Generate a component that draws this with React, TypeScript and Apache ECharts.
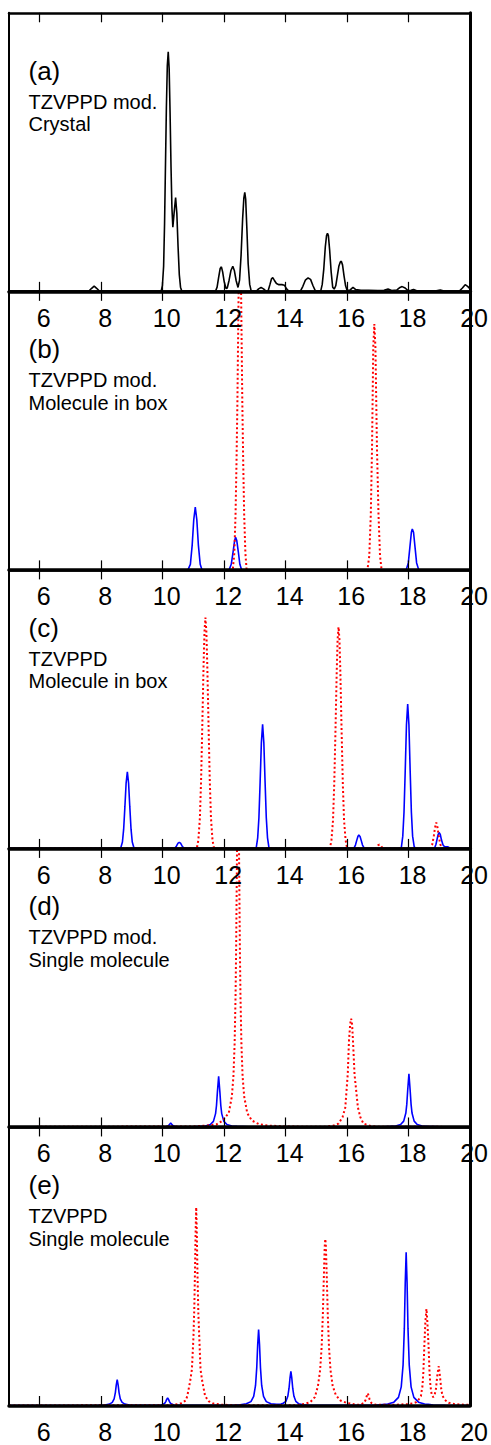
import React, { useEffect, useRef } from "react";
import * as echarts from "echarts";

type P = [number, number][];

const xTicks = [6, 8, 10, 12, 14, 16, 18, 20];
const panelLetters = ["(a)", "(b)", "(c)", "(d)", "(e)"];
const panelLine1 = ["TZVPPD mod.", "TZVPPD mod.", "TZVPPD", "TZVPPD mod.", "TZVPPD"];
const panelLine2 = ["Crystal", "Molecule in box", "Molecule in box", "Single molecule", "Single molecule"];

const crystalA: P = [
  [5, 0.1], [7.6, 0.1], [7.68, 1.0], [7.77, 1.9], [7.86, 1.0], [7.94, 0.1],
  [9.95, 0.1], [9.99, 2], [10.03, 9], [10.06, 24], [10.09, 45], [10.12, 66], [10.15, 81], [10.18, 86], [10.21, 80], [10.24, 64], [10.27, 45], [10.3, 30], [10.33, 23], [10.37, 28], [10.42, 33.7], [10.46, 28], [10.5, 16], [10.54, 6], [10.58, 1.5], [10.62, 0.1],
  [11.72, 0.1], [11.77, 1.5], [11.82, 5], [11.87, 8.2], [11.91, 8.8], [11.95, 7], [12.0, 3.5], [12.06, 1], [12.1, 1.2], [12.16, 4], [12.22, 7.5], [12.28, 9], [12.33, 7.5], [12.39, 3.8], [12.45, 1.4], [12.5, 4], [12.55, 13], [12.6, 26], [12.64, 33.5], [12.67, 35.5], [12.7, 33], [12.74, 22], [12.78, 10], [12.83, 2.5], [12.88, 0.1],
  [13.05, 0.1], [13.12, 0.9], [13.2, 1.4], [13.28, 0.9], [13.36, 0.1],
  [13.43, 0.2], [13.49, 2.5], [13.54, 4.5], [13.58, 4.9], [13.63, 4], [13.7, 2.8], [13.78, 2.4], [13.88, 2.4], [13.96, 2.2], [14.03, 0.9], [14.1, 0.1],
  [14.48, 0.1], [14.56, 1.8], [14.64, 4], [14.73, 4.8], [14.81, 4.3], [14.89, 2], [14.97, 0.1],
  [15.14, 0.1], [15.19, 2.5], [15.24, 8], [15.29, 16], [15.33, 20], [15.36, 20.8], [15.39, 20], [15.43, 15], [15.48, 7], [15.53, 1.5], [15.58, 0.8], [15.63, 2], [15.68, 5.5], [15.73, 9], [15.78, 10.6], [15.81, 10.8], [15.85, 9.5], [15.9, 5.5], [15.95, 2], [16.0, 0.3],
  [16.1, 0.5], [16.19, 1.4], [16.28, 0.6], [16.45, 0.4], [16.7, 0.4], [17.0, 0.3], [17.2, 0.4], [17.33, 0.8], [17.45, 0.3], [17.62, 0.5], [17.72, 1.4], [17.79, 1.7], [17.87, 1.3], [17.98, 0.3], [18.08, 0.4], [18.16, 0.7], [18.26, 0.2], [18.9, 0.2], [19.03, 0.5], [19.15, 0.1], [19.65, 0.1], [19.75, 1.2], [19.84, 2.4], [19.92, 1.8], [20, 0.9],
];

const blueB: P = [
  [5, 0], [10.82, 0], [10.9, 2], [10.96, 9], [11.01, 18], [11.06, 22.5], [11.11, 18], [11.16, 9], [11.22, 2], [11.28, 0],
  [12.16, 0], [12.23, 2], [12.29, 6.5], [12.34, 10.5], [12.37, 11.7], [12.41, 10.5], [12.46, 6.5], [12.51, 2], [12.57, 0],
  [17.92, 0], [17.99, 2.5], [18.04, 8], [18.09, 13.5], [18.12, 14.7], [18.16, 13.5], [18.21, 8], [18.26, 2.5], [18.33, 0], [20, 0],
];
const redB: P = [
  [5, 0], [12.28, 0], [12.33, 6], [12.37, 20], [12.4, 38], [12.43, 60], [12.455, 85], [12.48, 110], [12.51, 125], [12.54, 110], [12.565, 85], [12.59, 60], [12.62, 38], [12.65, 20], [12.69, 6], [12.73, 0],
  [16.66, 0], [16.72, 5], [16.77, 20], [16.81, 44], [16.85, 80], [16.885, 88.3], [16.92, 80], [16.97, 44], [17.02, 20], [17.07, 5], [17.12, 0], [20, 0],
];

const blueC: P = [
  [5, 0], [8.63, 0], [8.69, 2.3], [8.73, 6.9], [8.77, 14.9], [8.81, 23.5], [8.85, 27.5], [8.89, 23.5], [8.93, 14.9], [8.97, 6.9], [9.01, 2.3], [9.07, 0],
  [10.39, 0], [10.45, 0.9], [10.5, 1.9], [10.54, 2.2], [10.58, 1.9], [10.63, 0.9], [10.7, 0],
  [13.04, 0], [13.09, 3.8], [13.13, 11], [13.17, 24], [13.21, 38], [13.25, 44.6], [13.29, 38], [13.33, 24], [13.37, 11], [13.41, 3.8], [13.46, 0],
  [16.22, 0], [16.27, 1.2], [16.31, 2.8], [16.35, 4.3], [16.38, 4.8], [16.42, 4.3], [16.46, 2.8], [16.5, 1.2], [16.56, 0],
  [17.76, 0], [17.81, 4.4], [17.85, 13], [17.89, 28], [17.93, 44.4], [17.97, 51.8], [18.01, 44.4], [18.05, 28], [18.09, 13], [18.13, 4.4], [18.18, 0.7], [18.22, 0],
  [18.84, 0], [18.89, 1.5], [18.93, 3.5], [18.96, 5], [18.99, 5.7], [19.03, 5], [19.07, 3], [19.12, 1.2], [19.17, 0.6], [19.27, 0.6], [19.34, 0.2], [19.42, 0], [20, 0],
];
const redC: P = [
  [5, 0], [11.11, 0], [11.16, 3], [11.21, 11], [11.25, 25], [11.29, 45], [11.33, 66], [11.36, 78], [11.39, 82.9], [11.42, 78], [11.45, 66], [11.49, 45], [11.53, 25], [11.57, 11], [11.62, 3], [11.67, 0],
  [15.44, 0], [15.49, 3], [15.54, 10], [15.58, 23], [15.62, 42], [15.66, 63], [15.69, 75], [15.72, 79.5], [15.75, 75], [15.78, 63], [15.82, 42], [15.86, 23], [15.9, 10], [15.95, 3], [16.0, 0],
  [16.95, 0], [17.0, 1.1], [17.05, 1.4], [17.1, 0.9], [17.16, 0],
  [18.72, 0], [18.77, 1.5], [18.82, 4.5], [18.86, 7.5], [18.9, 9.3], [18.94, 7.5], [18.98, 4.5], [19.03, 1.5], [19.09, 0], [20, 0],
];

const blueD: P = [
  [5, 0], [10.1, 0], [10.18, 0.4], [10.22, 0.9], [10.26, 1.4], [10.3, 0.9], [10.34, 0.4], [10.42, 0.1],
  [11.0, 0.1], [11.22, 0.2], [11.39, 0.35], [11.55, 0.86], [11.65, 2.0], [11.72, 4.8], [11.75, 7.7], [11.78, 12.6], [11.82, 18.2], [11.86, 12.6], [11.89, 7.7], [11.92, 4.8], [11.99, 2.0], [12.09, 0.86], [12.25, 0.35], [12.42, 0.2], [12.8, 0.1],
  [17.2, 0.1], [17.41, 0.2], [17.58, 0.37], [17.74, 0.9], [17.84, 2.1], [17.91, 5.0], [17.94, 8.1], [17.97, 13.2], [18.01, 19.1], [18.05, 13.2], [18.08, 8.1], [18.11, 5.0], [18.18, 2.1], [18.28, 0.9], [18.44, 0.37], [18.61, 0.2], [19, 0.1], [20, 0],
];
const redD: P = [
  [5, 0], [11.0, 0.2], [11.45, 0.5], [11.75, 0.9], [11.95, 2.3], [12.15, 5], [12.25, 11], [12.3, 18], [12.34, 30], [12.37, 47], [12.39, 65], [12.41, 90], [12.43, 117], [12.45, 130], [12.47, 117], [12.49, 90], [12.51, 65], [12.53, 47], [12.56, 30], [12.6, 18], [12.65, 11], [12.75, 5], [12.9, 2.3], [13.15, 0.9], [13.45, 0.5], [13.95, 0.2], [14.5, 0.1],
  [15.3, 0.1], [15.55, 0.5], [15.72, 1.2], [15.85, 3.5], [15.94, 7], [16.02, 19], [16.06, 31], [16.1, 37], [16.13, 38.9], [16.16, 37], [16.19, 31], [16.24, 19], [16.35, 7], [16.43, 3.5], [16.53, 1.2], [16.75, 0.4], [17.0, 0.1], [20, 0],
];

const blueE: P = [
  [5, 0], [7.9, 0.1], [8.12, 0.2], [8.27, 0.5], [8.36, 1.1], [8.42, 2.4], [8.46, 4.65], [8.49, 7.4], [8.52, 9.3], [8.55, 7.4], [8.58, 4.65], [8.62, 2.4], [8.68, 1.1], [8.77, 0.5], [8.92, 0.2], [9.2, 0.1],
  [9.9, 0.1], [9.96, 0.2], [10.06, 0.7], [10.1, 1.4], [10.13, 2.2], [10.16, 2.75], [10.19, 2.2], [10.22, 1.4], [10.26, 0.7], [10.36, 0.2], [10.5, 0.1],
  [12.3, 0.1], [12.52, 0.27], [12.72, 0.6], [12.87, 1.4], [12.96, 3.3], [13.02, 7.2], [13.06, 13.7], [13.09, 21.8], [13.12, 27.3], [13.15, 21.8], [13.18, 13.7], [13.22, 7.2], [13.28, 3.3], [13.37, 1.4], [13.52, 0.6], [13.7, 0.4], [13.85, 0.5], [13.92, 0.8], [14.01, 1.5], [14.07, 3.3], [14.11, 6.2], [14.14, 9.8], [14.17, 12.3], [14.2, 9.8], [14.23, 6.2], [14.27, 3.3], [14.33, 1.5], [14.42, 0.65], [14.57, 0.27], [14.8, 0.1],
  [16.9, 0.1], [17.32, 0.55], [17.52, 1.2], [17.67, 2.9], [17.76, 6.7], [17.82, 14.6], [17.86, 27.5], [17.89, 44], [17.92, 55], [17.95, 44], [17.98, 27.5], [18.02, 14.6], [18.08, 6.7], [18.17, 2.9], [18.32, 1.2], [18.52, 0.55], [18.64, 0.4], [18.8, 0.2], [19.2, 0.1], [20, 0],
];
const redE: P = [
  [5, 0], [10.2, 0.1], [10.4, 0.3], [10.6, 0.8], [10.75, 1.8], [10.8, 3.4], [10.89, 8.5], [10.95, 13], [11.0, 24.5], [11.03, 36], [11.05, 48], [11.07, 62], [11.09, 71.2], [11.11, 62], [11.13, 48], [11.16, 33], [11.19, 24.5], [11.23, 13], [11.29, 8.5], [11.38, 3.4], [11.5, 1.5], [11.65, 0.7], [11.9, 0.3], [12.3, 0.1],
  [14.3, 0.1], [14.59, 0.5], [14.8, 1.2], [14.95, 3.0], [15.05, 7], [15.12, 12.6], [15.17, 20.9], [15.21, 32.6], [15.24, 45.2], [15.27, 57], [15.29, 59.8], [15.31, 57], [15.34, 45.2], [15.37, 32.6], [15.41, 20.9], [15.46, 12.6], [15.53, 7], [15.63, 3.8], [15.78, 1.8], [15.99, 0.9], [16.3, 0.3],
  [16.42, 0.3], [16.55, 0.9], [16.61, 2.2], [16.64, 3.5], [16.67, 4.4], [16.7, 3.5], [16.73, 2.2], [16.79, 0.9], [16.92, 0.3],
  [17.6, 0.3], [18.0, 0.5], [18.15, 0.8], [18.25, 1.2], [18.33, 2.2], [18.4, 3.4], [18.45, 7], [18.48, 12], [18.51, 21], [18.545, 30], [18.58, 34.7], [18.61, 30], [18.65, 21], [18.68, 12], [18.71, 7], [18.75, 4], [18.8, 3], [18.85, 4], [18.89, 6], [18.93, 10.5], [18.98, 14.1], [19.02, 10.5], [19.06, 6], [19.1, 3.5], [19.18, 2], [19.3, 1], [19.5, 0.5], [19.8, 0.3], [20, 0.2],
];

const panelSeries: { data: P; kind: "black" | "blue" | "red" }[][] = [
  [{ data: crystalA, kind: "black" }],
  [{ data: blueB, kind: "blue" }, { data: redB, kind: "red" }],
  [{ data: blueC, kind: "blue" }, { data: redC, kind: "red" }],
  [{ data: blueD, kind: "blue" }, { data: redD, kind: "red" }],
  [{ data: blueE, kind: "blue" }, { data: redE, kind: "red" }],
];

const FONT = '"Liberation Sans", Arial, Helvetica, sans-serif';
const TOP0 = 12.8;
const PH = 278.54;
const LEFT = 9;
const PW = 463.3;

export default function App() {
  const ref = useRef<HTMLDivElement>(null);
  useEffect(() => {
    document.body.style.margin = "0";
    if (!ref.current) return;
    const chart = echarts.init(ref.current, undefined, { renderer: "svg" });
    const grid: any[] = [];
    const xAxis: any[] = [];
    const yAxis: any[] = [];
    const series: any[] = [];
    const graphic: any[] = [];
    panelSeries.forEach((list, i) => {
      const top = TOP0 + i * PH;
      grid.push({ left: LEFT, top, width: PW, height: PH });
      const baseX = {
        gridIndex: i,
        type: "value",
        min: 5,
        max: 20,
        splitLine: { show: false },
        z: 5,
      };
      xAxis.push({
        ...baseX,
        position: "bottom",
        axisLine: { show: true, onZero: false, lineStyle: { color: "#000", width: 3.5 } },
        axisTick: { show: true, inside: true, length: 9.5, customValues: xTicks, lineStyle: { color: "#000", width: 1.2 } },
        axisLabel: {
          show: true,
          customValues: xTicks,
          fontSize: 25,
          fontFamily: FONT,
          color: "#000",
          margin: 14,
          padding: [0, 0, 0, 8],
        },
      });
      xAxis.push({
        ...baseX,
        position: "top",
        axisLine: { show: true, onZero: false, lineStyle: { color: "#000", width: 2.5 } },
        axisTick: { show: true, inside: true, length: 9.5, customValues: xTicks, lineStyle: { color: "#000", width: 1.2 } },
        axisLabel: { show: false },
      });
      const baseY = {
        gridIndex: i,
        type: "value",
        min: 0,
        max: 100,
        splitLine: { show: false },
        axisTick: { show: false },
        axisLabel: { show: false },
        z: 5,
      };
      yAxis.push({ ...baseY, position: "left", axisLine: { show: true, onZero: false, lineStyle: { color: "#000", width: 2 } } });
      yAxis.push({ ...baseY, position: "right", axisLine: { show: true, onZero: false, lineStyle: { color: "#000", width: 3 } } });
      list.forEach((s) => {
        const color = s.kind === "black" ? "#000000" : s.kind === "blue" ? "#0000ff" : "#ff0000";
        series.push({
          type: "line",
          xAxisIndex: 2 * i,
          yAxisIndex: 2 * i,
          data: s.data,
          showSymbol: false,
          symbol: "none",
          clip: true,
          z: s.kind === "red" ? 3 : 2,
          lineStyle: {
            color,
            width: s.kind === "red" ? 2 : 1.6,
            type: s.kind === "red" ? [2, 2.5] : "solid",
          },
        });
      });
      graphic.push({
        type: "text",
        x: 28.5,
        y: top + 58,
        style: { text: panelLetters[i], fontSize: 26, fontFamily: FONT, fill: "#000", align: "left", verticalAlign: "middle" },
      });
      graphic.push({
        type: "text",
        x: 28.5,
        y: top + 88.8,
        style: { text: panelLine1[i], fontSize: 20, fontFamily: FONT, fill: "#000", align: "left", verticalAlign: "middle" },
      });
      graphic.push({
        type: "text",
        x: 28.5,
        y: top + 111.6,
        style: { text: panelLine2[i], fontSize: 20, fontFamily: FONT, fill: "#000", align: "left", verticalAlign: "middle" },
      });
    });
    chart.setOption({
      animation: false,
      backgroundColor: "#ffffff",
      grid,
      xAxis,
      yAxis,
      series,
      graphic,
    });
    return () => chart.dispose();
  }, []);
  return <div ref={ref} style={{ width: 491, height: 1445 }} />;
}
